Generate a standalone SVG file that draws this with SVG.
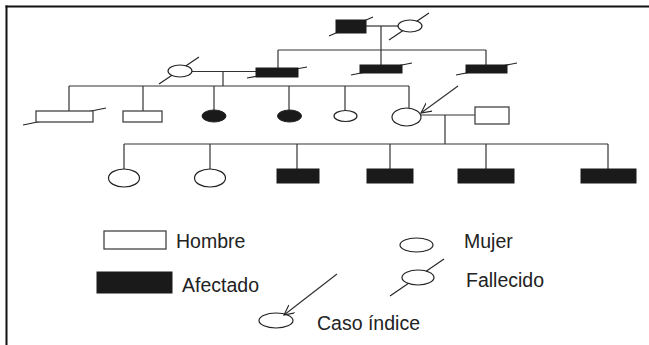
<svg xmlns="http://www.w3.org/2000/svg" width="649" height="345" viewBox="0 0 649 345">
<style>
.ln{stroke:#333;stroke-width:1.2;fill:none}
.m{fill:#fff;stroke:#444;stroke-width:1.3}
.a{fill:#1a1a1a;stroke:#1a1a1a;stroke-width:1}
.f{fill:#fff;stroke:#222;stroke-width:1.2}
.fa{fill:#1a1a1a;stroke:#222;stroke-width:1}
.sl{stroke:#222;stroke-width:1.1;fill:none}
.t{font-family:"Liberation Sans",Arial,sans-serif;font-size:19.5px;fill:#222}
</style>
<defs>
<marker id="arr" markerWidth="12" markerHeight="12" refX="10" refY="5" orient="auto" markerUnits="userSpaceOnUse">
<path d="M0,0 L10,5 L0,10" fill="none" stroke="#222" stroke-width="1.1"/>
</marker>
</defs>
<rect x="0" y="0" width="649" height="345" fill="#fff"/>
<g id="frame">
<line x1="5.5" y1="6.5" x2="649" y2="6.5" stroke="#111" stroke-width="2"/>
<line x1="6.5" y1="5.5" x2="6.5" y2="345" stroke="#111" stroke-width="2"/>
</g>
<g id="connectors" class="ln">
<line x1="366" y1="26" x2="398" y2="26"/>
<line x1="381" y1="26" x2="381" y2="50"/>
<line x1="278" y1="50" x2="486" y2="50"/>
<line x1="278" y1="50" x2="278" y2="68"/>
<line x1="381" y1="50" x2="381" y2="65"/>
<line x1="486" y1="50" x2="486" y2="65"/>
<line x1="192" y1="71.5" x2="256" y2="71.5"/>
<line x1="223" y1="71.5" x2="223" y2="86"/>
<line x1="69" y1="86" x2="409" y2="86"/>
<line x1="69" y1="86" x2="69" y2="111"/>
<line x1="143" y1="86" x2="143" y2="111"/>
<line x1="214" y1="86" x2="214" y2="110"/>
<line x1="289" y1="86" x2="289" y2="110"/>
<line x1="345" y1="86" x2="345" y2="110.5"/>
<line x1="409" y1="86" x2="409" y2="108"/>
<line x1="421" y1="115" x2="475" y2="115"/>
<line x1="445" y1="115" x2="445" y2="144"/>
<line x1="124" y1="144" x2="608" y2="144"/>
<line x1="124" y1="144" x2="124" y2="169"/>
<line x1="210" y1="144" x2="210" y2="169"/>
<line x1="297" y1="144" x2="297" y2="169"/>
<line x1="390" y1="144" x2="390" y2="169"/>
<line x1="486" y1="144" x2="486" y2="169"/>
<line x1="608" y1="144" x2="608" y2="169"/>
<line x1="458" y1="86" x2="421" y2="113" marker-end="url(#arr)"/>
</g>
<g id="gen1-father"><line class="sl" x1="329" y1="36" x2="373" y2="17"/><rect class="a" x="336" y="20" width="30" height="13"/></g>
<g id="gen1-mother"><line class="sl" x1="389" y1="40" x2="429" y2="13"/><ellipse class="f" cx="410" cy="26" rx="12" ry="6"/></g>
<g id="gen2-wife"><line class="sl" x1="159" y1="84" x2="199" y2="57"/><ellipse class="f" cx="180" cy="71" rx="12" ry="6"/></g>
<g id="gen2-son1"><line class="sl" x1="247" y1="78" x2="307" y2="67"/><rect class="a" x="256" y="68" width="42" height="9"/></g>
<g id="gen2-son2"><line class="sl" x1="351" y1="75" x2="412" y2="63"/><rect class="a" x="360" y="65" width="42" height="8"/></g>
<g id="gen2-son3"><line class="sl" x1="456" y1="75" x2="517" y2="63"/><rect class="a" x="466" y="65" width="41" height="8"/></g>
<g id="gen3-1"><line class="sl" x1="23" y1="125" x2="106" y2="108"/><rect class="m" x="36" y="111" width="57" height="11"/></g>
<g id="gen3-2"><rect class="m" x="123" y="111" width="39" height="11"/></g>
<g id="gen3-3"><ellipse class="fa" cx="214" cy="116" rx="12" ry="6"/></g>
<g id="gen3-4"><ellipse class="fa" cx="289.5" cy="116" rx="12" ry="6"/></g>
<g id="gen3-5"><ellipse class="f" cx="345.5" cy="116" rx="11.5" ry="5.5"/></g>
<g id="gen3-proband"><ellipse class="f" cx="406.5" cy="117" rx="14.5" ry="9"/></g>
<g id="gen3-husband"><rect class="m" x="475" y="107" width="34" height="17"/></g>
<g id="gen4-1"><ellipse class="f" cx="124" cy="178" rx="15.5" ry="9"/></g>
<g id="gen4-2"><ellipse class="f" cx="210" cy="178" rx="15.5" ry="9"/></g>
<g id="gen4-3"><rect class="a" x="277" y="169" width="42" height="14"/></g>
<g id="gen4-4"><rect class="a" x="367" y="169" width="46" height="14"/></g>
<g id="gen4-5"><rect class="a" x="458" y="169" width="56" height="14"/></g>
<g id="gen4-6"><rect class="a" x="581" y="169" width="55" height="14"/></g>
<g id="legend-hombre"><rect class="m" x="104" y="231" width="62" height="18"/><text class="t" x="176" y="248">Hombre</text></g>
<g id="legend-afectado"><rect class="a" x="97" y="272" width="75" height="21"/><text class="t" x="182" y="292">Afectado</text></g>
<g id="legend-mujer"><ellipse class="f" cx="416.5" cy="245" rx="16.5" ry="7"/><text class="t" x="464" y="248">Mujer</text></g>
<g id="legend-fallecido"><line class="sl" x1="390" y1="296" x2="444" y2="259"/><ellipse class="f" cx="418" cy="277.5" rx="16" ry="7.5"/><text class="t" x="466" y="287">Fallecido</text></g>
<g id="legend-caso"><ellipse class="f" cx="276" cy="320.5" rx="17" ry="7.5"/><line class="ln" x1="337" y1="274" x2="284" y2="315" marker-end="url(#arr)"/><text class="t" x="317" y="330">Caso índice</text></g>
</svg>
